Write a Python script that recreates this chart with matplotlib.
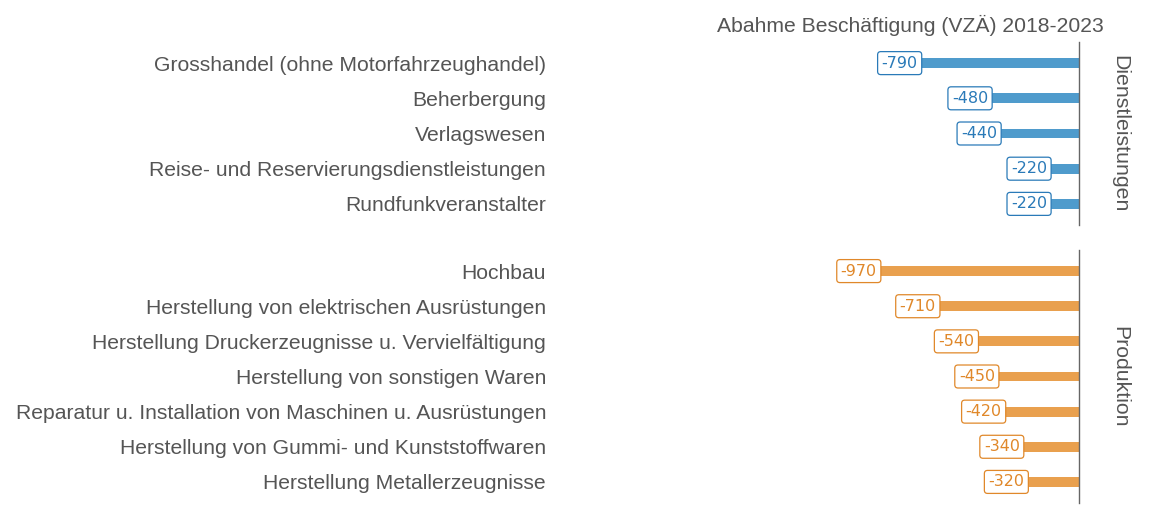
import matplotlib
matplotlib.use("Agg")
import matplotlib.pyplot as plt

# Data
dl_categories = ["Grosshandel (ohne Motorfahrzeughandel)", "Beherbergung", "Verlagswesen",
                 "Reise- und Reservierungsdienstleistungen", "Rundfunkveranstalter"]
dl_values = [-790, -480, -440, -220, -220]
pr_categories = ["Hochbau", "Herstellung von elektrischen Ausrüstungen",
                 "Herstellung Druckerzeugnisse u. Vervielfältigung", "Herstellung von sonstigen Waren",
                 "Reparatur u. Installation von Maschinen u. Ausrüstungen",
                 "Herstellung von Gummi- und Kunststoffwaren", "Herstellung Metallerzeugnisse"]
pr_values = [-970, -710, -540, -450, -420, -340, -320]
groups = ["Dienstleistungen", "Produktion"]
title = "Abahme Beschäftigung (VZÄ) 2018-2023"

W, H = 1152, 518
fig = plt.figure(figsize=(W / 100, H / 100), dpi=100)

GRAY = "#555555"
ax_left = 560 / W
ax_right = 1079 / W
pxu = 0.227  # pixels per unit
xmin = -(1079 - 560) / pxu

panels = [
    (dl_categories, dl_values, 42, 225, "#4f9bcc", "#2a7ab8", groups[0]),
    (pr_categories, pr_values, 250, 503, "#e9a04e", "#e0882a", groups[1]),
]

for cats, vals, ytop, ybot, bcol, tcol, gname in panels:
    ax = fig.add_axes([ax_left, 1 - ybot / H, ax_right - ax_left, (ybot - ytop) / H])
    n = len(cats)
    y = list(range(n))
    ax.barh(y, vals, height=0.28, color=bcol, zorder=2)
    for yi, v in zip(y, vals):
        ax.text(v, yi, f"{v}", ha="center", va="center", fontsize=11.5, color=tcol,
                family="DejaVu Sans", zorder=3,
                bbox=dict(boxstyle="round,pad=0.25,rounding_size=0.2", fc="white",
                          ec=tcol, lw=0.9, alpha=1))
    ax.set_xlim(xmin, 0)
    ax.set_ylim(n - 0.4, -0.6)
    ax.set_yticks(y)
    ax.set_yticklabels(cats, fontsize=15.2, color=GRAY, family="Liberation Sans")
    ax.tick_params(axis="y", length=0, pad=10)
    ax.set_xticks([])
    for s in ["left", "top", "bottom"]:
        ax.spines[s].set_visible(False)
    ax.spines["right"].set_color("#666666")
    ax.spines["right"].set_linewidth(1.0)
    ax.text(1.079, 0.5, gname, transform=ax.transAxes, rotation=270, ha="center",
            va="center", fontsize=15.3, color=GRAY, family="Liberation Sans")

fig.text(910 / W, 1 - 25 / H, title, ha="center", va="center", fontsize=15.2,
         color=GRAY, family="Liberation Sans")

fig.savefig("out.png", dpi=100)
